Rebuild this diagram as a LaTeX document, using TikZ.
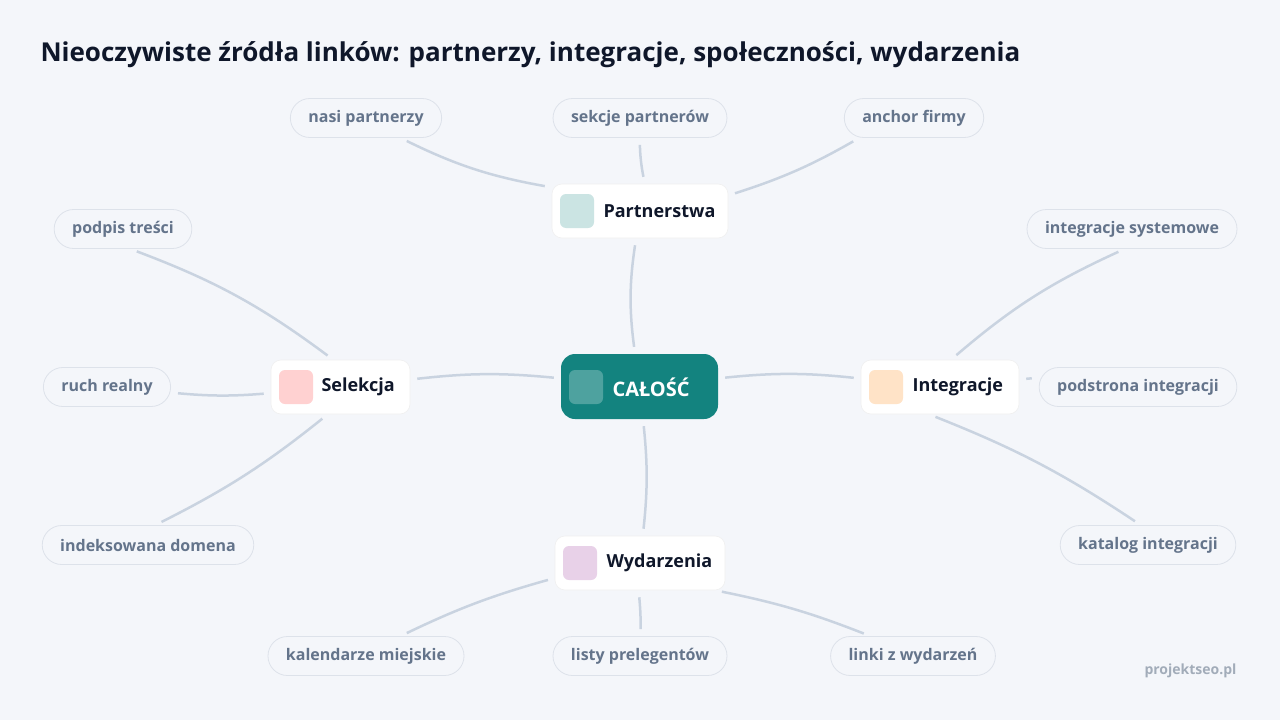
\documentclass[tikz,border=0pt]{standalone}
\usepackage{fontspec}
\setmainfont{Open Sans}
\usetikzlibrary{shadows.blur}
\definecolor{bg}{HTML}{F4F6FA}
\definecolor{teal}{HTML}{13837F}
\definecolor{ink}{HTML}{0F172A}
\definecolor{leaf}{HTML}{64748B}
\definecolor{edge}{HTML}{C9D3E0}
\definecolor{pillbd}{HTML}{DDE2EA}
\begin{document}
\begin{tikzpicture}[x=1pt,y=-1pt,
  branch/.style={draw=black!6,line width=0.6pt,fill=white,rounded corners=10pt,minimum height=54pt},
  btext/.style={anchor=west,text=ink,font=\fontsize{18}{20}\selectfont\bfseries},
  icon/.style={rounded corners=6pt,minimum width=34pt,minimum height=34pt,inner sep=0pt},
  pill/.style={draw=pillbd,line width=0.8pt,fill=bg,rounded corners=19.5pt,minimum height=39pt,inner xsep=18pt,font=\fontsize{16}{18}\selectfont\bfseries,text=leaf},
  conn/.style={draw=edge,line width=2.5pt,shorten >=7pt,shorten <=7pt}]
\fill[bg] (0,0) rectangle (1280,720);
\node[anchor=west,font=\fontsize{26}{30}\selectfont\bfseries,text=ink] (title) at (37,55) {Nieoczywiste źródła linków: partnerzy, integracje, społeczności, wydarzenia};
\node[anchor=east,font=\fontsize{14}{16}\selectfont\bfseries,text=leaf!60] (foot) at (1240,671) {projektseo.pl};

% center
\node[fill=teal,rounded corners=14pt,minimum width=157pt,minimum height=65pt] (c) at (639.5,386.5) {};
\node[icon,fill=white,fill opacity=0.25] (ci) at (586,387) {};
\node[anchor=west,text=white,font=\fontsize{20}{22}\selectfont\bfseries] (ct) at (609,387) {CAŁOŚĆ};

% branches
\node[branch,minimum width=176pt] (p) at (640,211) {};
\node[icon,fill=teal!22] (pi) at (577,211) {};
\node[btext] at (600,211) {Partnerstwa};

\node[branch,minimum width=139pt] (s) at (340.5,387) {};
\node[icon,fill=red!18] (si) at (296,387) {};
\node[btext] at (318,387) {Selekcja};

\node[branch,minimum width=158pt] (i) at (940,387) {};
\node[icon,fill=orange!22] (ii) at (886,387) {};
\node[btext] at (909,387) {Integracje};

\node[branch,minimum width=170pt] (w) at (640,563) {};
\node[icon,fill=violet!18] (wi) at (580,563) {};
\node[btext] at (603,563) {Wydarzenia};

% leaves
\node[pill] (l1) at (366,118) {nasi partnerzy};
\node[pill] (l2) at (640,118) {sekcje partnerów};
\node[pill] (l3) at (914,118) {anchor firmy};
\node[pill] (l4) at (123,229) {podpis treści};
\node[pill] (l5) at (107,387) {ruch realny};
\node[pill] (l6) at (148,545) {indeksowana domena};
\node[pill] (l7) at (1132,229) {integracje systemowe};
\node[pill] (l8) at (1138,387) {podstrona integracji};
\node[pill] (l9) at (1148,545) {katalog integracji};
\node[pill] (l10) at (366,656) {kalendarze miejskie};
\node[pill] (l11) at (640,656) {listy prelegentów};
\node[pill] (l12) at (913,656) {linki z wydarzeń};

% connectors
\draw[conn] (c) to[bend left=8] (p);
\draw[conn] (c) to[bend right=6] (s);
\draw[conn] (c) to[bend left=6] (i);
\draw[conn] (c) to[bend left=6] (w);
\draw[conn] (p.165) to[bend left=8] (l1.-30);
\draw[conn] (p.80) to[bend left=5] (l2);
\draw[conn] (p.10) to[bend right=6] (l3.-160);
\draw[conn] (s.105) to[bend right=8] (l4.-70);
\draw[conn] (s) to[bend left=5] (l5);
\draw[conn] (s.-115) to[bend left=6] (l6.70);
\draw[conn] (i.68) to[bend left=8] (l7.-110);
\draw[conn] (i) to[bend left=5] (l8);
\draw[conn] (i.-112) to[bend left=6] (l9.110);
\draw[conn] (w.-170) to[bend right=5] (l10.30);
\draw[conn] (w.-93) to[bend left=3] (l11);
\draw[conn] (w.-20) to[bend left=5] (l12.155);
\end{tikzpicture}
\end{document}
